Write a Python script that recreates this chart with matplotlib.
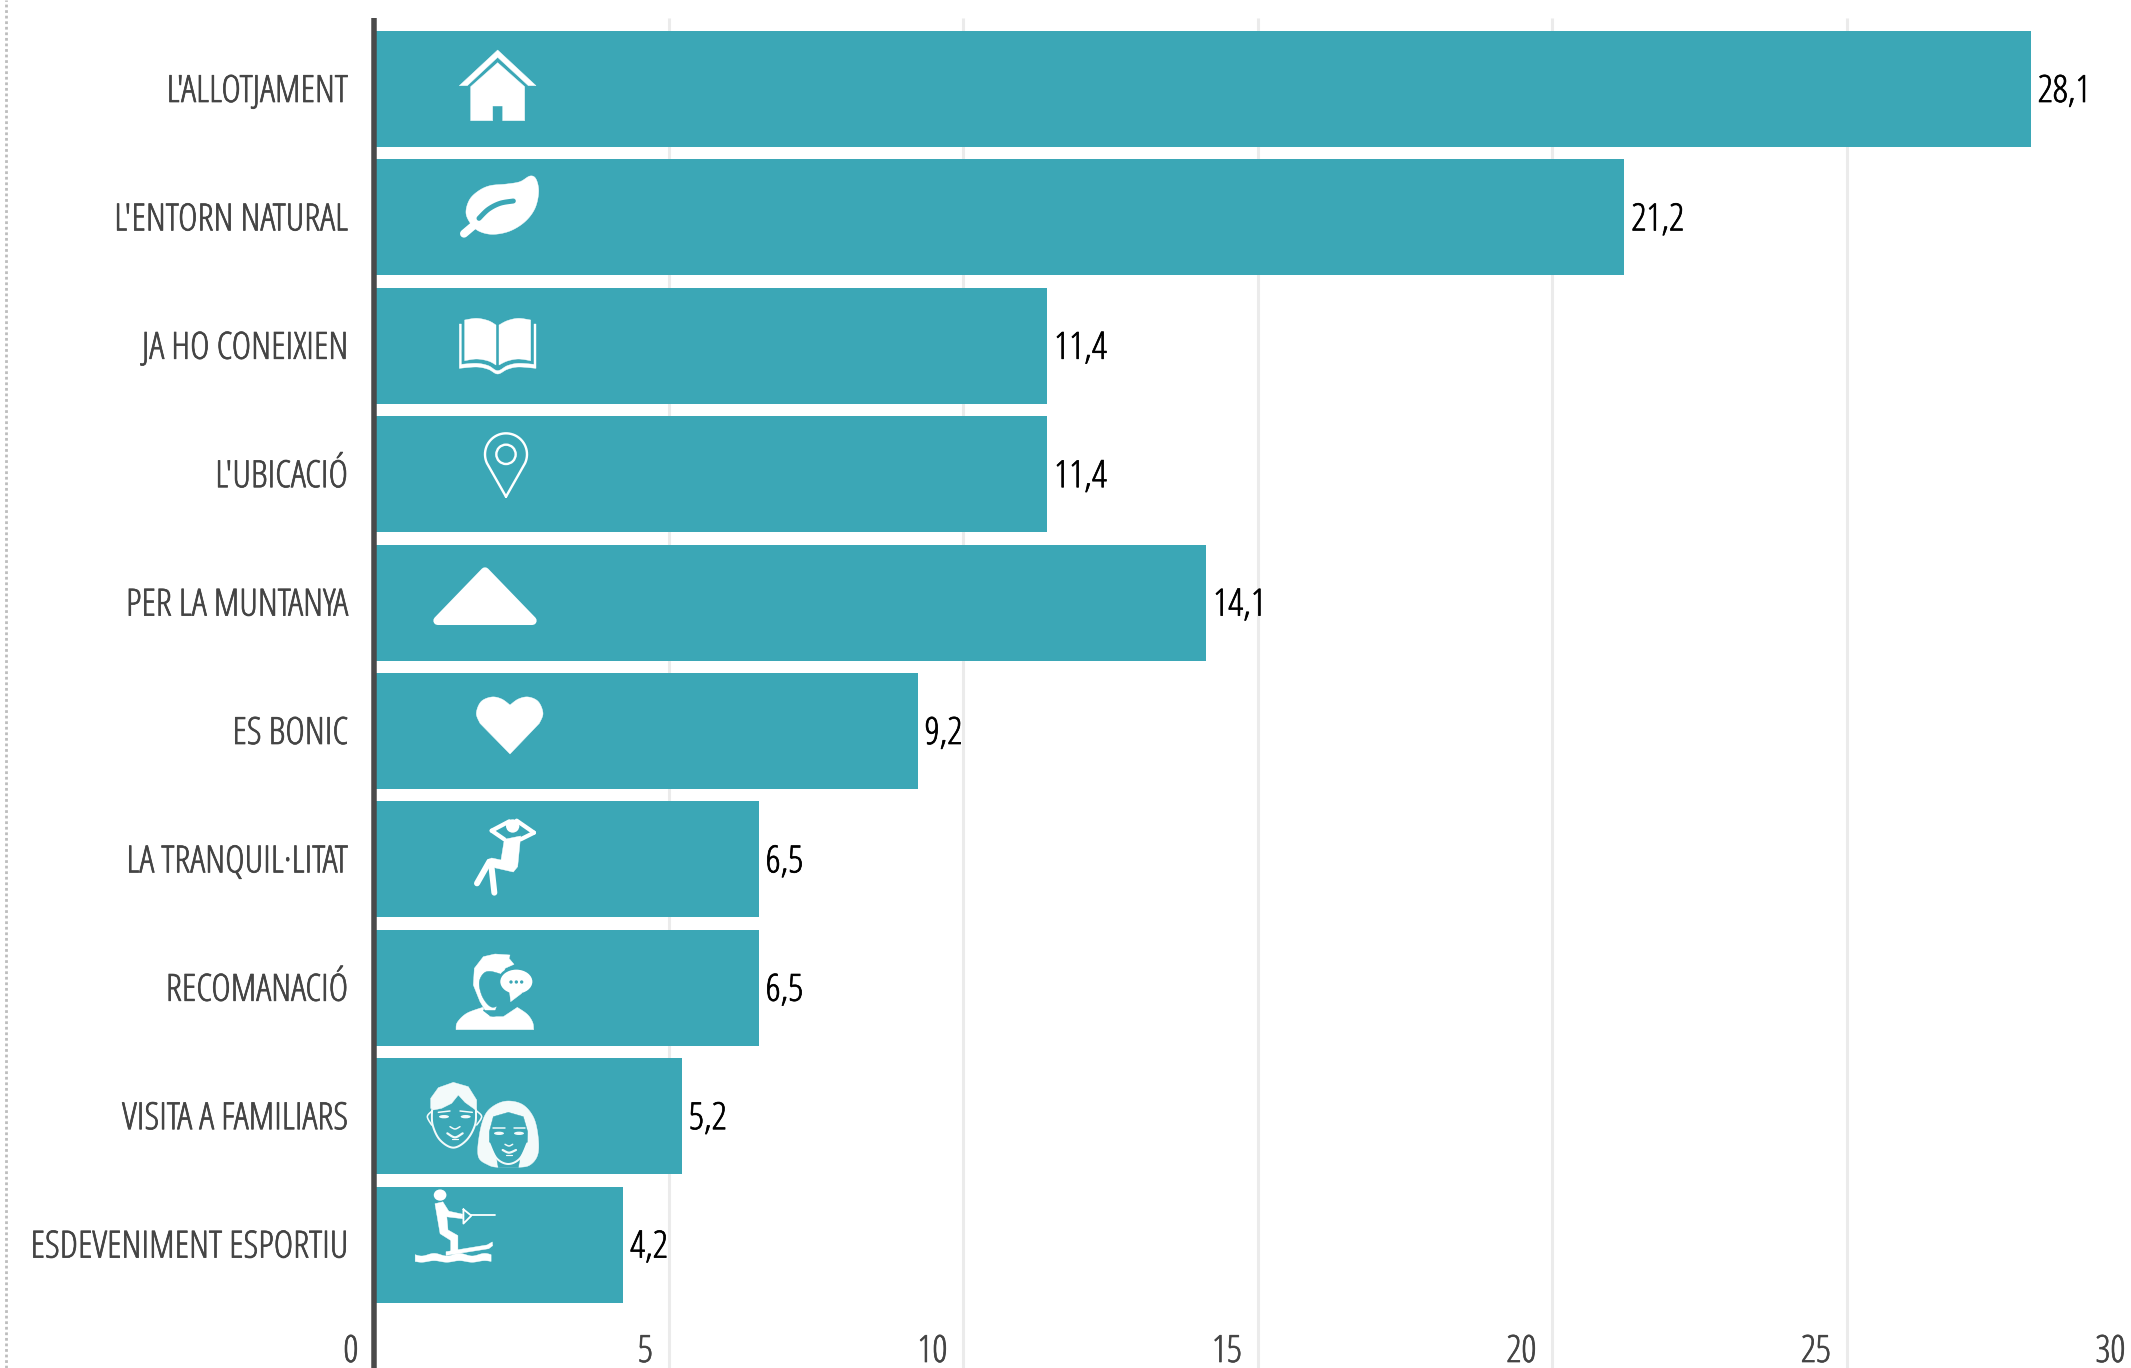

import numpy as np
import matplotlib
matplotlib.use("Agg")
import matplotlib.pyplot as plt
from matplotlib.patches import Polygon, Ellipse
import matplotlib.patheffects as pe

categories = ["L'ALLOTJAMENT","L'ENTORN NATURAL","JA HO CONEIXIEN","L'UBICACIÓ","PER LA MUNTANYA","ES BONIC","LA TRANQUIL·LITAT","RECOMANACIÓ","VISITA A FAMILIARS","ESDEVENIMENT ESPORTIU"]
values = [28.1,21.2,11.4,11.4,14.1,9.2,6.5,6.5,5.2,4.2]
value_labels = ["28,1","21,2","11,4","11,4","14,1","9,2","6,5","6,5","5,2","4,2"]
ticks = [0,5,10,15,20,25,30]

W,H = 2131,1368
TEAL = "#3ba7b6"
FS = 27
plt.rcParams['font.family'] = ['Open Sans','DejaVu Sans']
TXT = dict(fontsize=FS, stretch='condensed', va='baseline')

fig = plt.figure(figsize=(W/100,H/100),dpi=100,facecolor="white")
L = 374.4
sx = 58.9
ax = fig.add_axes([L/W,0,(W-L)/W,1])
ax.set_xlim(0,(W-L)/sx)
ax.set_ylim(H,0)
ax.axis("off")

def bold(t,col):
    t.set_path_effects([pe.withStroke(linewidth=0.5,foreground=col)])

# frame-side dotted rule
fig.add_artist(plt.Line2D([6/W,6/W],[0,1],color="#bdbdbd",lw=2.0,ls=(0,(1,1))))

for t in ticks[1:-1]:
    ax.plot([t,t],[18,H],color="#ebebeb",lw=2.2,zorder=0,solid_capstyle="butt")

y0, step, h = 31, 128.4, 116
off = 1.3/sx
for i,(c,v,l) in enumerate(zip(categories,values,value_labels)):
    yc = y0+h/2+i*step
    ax.barh(yc,v,left=off,height=h,color=TEAL,zorder=2)
    bold(ax.text(-26.5/sx,yc+13,c,ha="right",color="#444444",**TXT),"#444444")
    bold(ax.text(v+off+7/sx,yc+13,l,ha="left",color="black",**TXT),"black")
ax.plot([-0.65/sx]*2,[18,H],color="#4a4a4a",lw=5.5*0.72,zorder=3,solid_capstyle="butt",clip_on=False)
for t in ticks:
    bold(ax.text(t-16/sx,1362,str(t),ha="right",color="#444444",clip_on=False,**TXT),"#444444")

# ---- pictograms: decoration, drawn in pixel space on an overlay ----
ic = fig.add_axes([0,0,1,1],facecolor="none")
ic.set_xlim(0,W); ic.set_ylim(H,0); ic.axis("off")
PX = 0.72

def cr(pts,closed=False,n=10):
    p = np.array(pts,float)
    if closed:
        q = np.vstack([p[-1],p,p[0],p[1]])
    else:
        q = np.vstack([p[0],p,p[-1]])
    out=[]
    for i in range(1,len(q)-2):
        for t in np.linspace(0,1,n,endpoint=False):
            a,b,c,d=q[i-1],q[i],q[i+1],q[i+2]
            out.append(0.5*((2*b)+(c-a)*t+(2*a-5*b+4*c-d)*t*t+(3*b-a-3*c+d)*t**3))
    if not closed: out.append(q[-2])
    return np.array(out)

class M:
    def __init__(s,ox,oy,fx=3.0,fy=3.0,color="white"):
        s.o=np.array([ox,oy],float); s.f=np.array([fx,fy],float); s.c=color
    def t(s,p): return s.o+np.array(p,float)/s.f
    def fill(s,p,color=None,sm=False,lw=0,z=5):
        p=s.t(cr(p,True) if sm else p)
        col=color or s.c
        ic.add_patch(Polygon(p,closed=True,fc=col,ec=col,lw=lw*PX if lw else 0.3,joinstyle="round",zorder=z))
    def line(s,p,lw,color=None,sm=False,z=6):
        q=cr(p) if sm else np.array(p,float)
        q=s.t(q)
        ic.plot(q[:,0],q[:,1],color=color or s.c,lw=lw*PX,solid_capstyle="round",solid_joinstyle="round",zorder=z)
    def ell(s,c,rx,ry=None,color=None,z=6,ec=None,lw=0):
        ry=rx if ry is None else ry
        cc=s.t(c)
        ic.add_patch(Ellipse(cc,2*rx/s.f[0],2*ry/s.f[1],fc=color or s.c,ec=ec or "none",lw=lw*PX,zorder=z))

# house
m=M(430,40)
m.fill([(203,30),(318,137),(295,137),(203,52),(112,137),(88,137)])
m.fill([(203,68),(284,140),(284,242),(218,242),(218,198),(188,198),(188,242),(122,242),(122,140)])

# leaf
m=M(430,165)
m.fill([(300,33),(318,42),(326,80),(315,130),(285,170),(240,198),(190,208),(150,200),(125,180),(108,145),(118,105),(145,78),(180,62),(230,57),(270,50)],sm=True)
m.line([(135,178),(102,206)],8)
m.line([(147,160),(175,133),(210,115),(250,108)],5,color=TEAL,sm=True)

# book
m=M(430,300)
m.fill(np.vstack([cr([(104,60),(140,55),(175,62),(198,75)]),cr([(198,195),(175,183),(140,177),(104,182)])]))
m.fill(np.vstack([cr([(207,75),(232,62),(265,55),(302,60)]),cr([(302,182),(265,177),(232,183),(207,195)])]))
m.fill(np.vstack([[(88,72),(94,72),(94,193)],cr([(94,193),(140,190),(175,197),(203,212),(232,197),(265,190),(312,193)]),[(312,72),(318,72),(318,205)],cr([(318,205),(265,201),(232,208),(203,222),(175,208),(140,201),(88,205)])]))

# pin
m=M(430,425)
a=np.radians(np.linspace(-25,205,40))
arc=np.c_[228+63*np.cos(a),88-63*np.sin(a)]
m.line(np.vstack([[(228,215)],arc,[(228,215)]]),2.4)
m.ell((228,88),29,color="none",ec="white",lw=2.4)

# mountain
m=M(420,560)
m.fill([(195,35),(337,182),(53,182)],lw=8.7)

# heart
m=M(450,685)
m.fill(np.vstack([cr([(180,60),(205,42),(235,36),(265,50),(279,85),(268,115)]),[(180,207)],cr([(90,115),(79,85),(93,50),(125,36),(155,42),(180,60)])]))

# resting figure
m=M(450,810)
m.ell((188,48),20)
m.line([(125,62),(178,34)],4.2); m.line([(200,32),(252,68)],4.2)
m.line([(125,62),(163,88)],4.2); m.line([(252,68),(212,88)],4.2)
m.fill([(163,88),(212,78),(203,170),(190,186),(120,170),(112,150),(125,144),(153,150)])
m.line([(118,155),(81,220)],6)
m.line([(125,175),(133,248)],6)

# man with speech bubble
m=M(440,945)
m.fill(np.vstack([[(48,254)],cr([(48,254),(52,232),(80,205),(128,187)]),[(150,215),(190,215)],cr([(232,187),(262,208),(278,232),(281,254)])]))
m.fill([(100,120),(103,70),(130,35),(165,27),(210,30),(207,40),(222,58),(195,70),(175,170),(165,195),(135,195),(120,170)])
m.fill([(135,82),(165,82),(192,100),(192,165),(165,186),(145,180),(125,150),(118,110)],color=TEAL,sm=True)
m.line([(132,196),(160,212),(195,196)],1.8,color=TEAL,sm=True)
m.ell((229,110),52,40,ec=TEAL,lw=2.6,z=7)
m.fill([(208,135),(212,170),(245,145)],z=8)
for u in (213,229,245): m.ell((u,111),5,color=TEAL,z=9)

# couple
m=M(410,1075,color="#f3fafa")
m.fill([(62,100),(62,70),(85,38),(130,22),(175,35),(200,75),(200,108),(190,100),(165,82),(145,60),(125,85),(95,100),(70,105)])
m.line([(66,105),(68,150),(90,195),(130,218),(170,195),(195,150),(198,105)],2,sm=True)
m.line([(66,108),(52,125),(65,150)],1.6,sm=True); m.line([(200,108),(215,125),(200,150)],1.6,sm=True)
m.line([(85,112),(120,108)],1.5); m.line([(150,108),(187,112)],1.5)
m.ell((102,125),15,5); m.ell((167,125),15,5)
m.line([(120,155),(135,162),(150,155)],1.5,sm=True)
m.line([(112,175),(135,187),(158,175)],2.2,sm=True)
m.line([(125,192),(145,192)],1.2)
m.fill([(265,277),(235,270),(205,245),(208,180),(225,120),(255,90),(295,78),(340,90),(372,130),(385,190),(383,240),(360,270),(325,277)],sm=True)
m.fill([(295,112),(340,125),(353,170),(352,205),(330,250),(325,278),(265,278),(260,250),(238,205),(238,170),(250,125)],color=TEAL,z=6)
m.line([(238,205),(260,250),(295,267),(330,250),(352,205)],2,sm=True,z=7)
m.line([(250,158),(285,158)],1.5); m.line([(312,158),(345,158)],1.5)
m.ell((267,175),15,5); m.ell((327,175),15,5)
m.line([(285,208),(297,213),(308,208)],1.5,sm=True)
m.line([(278,225),(297,233),(318,225)],2.2,sm=True)
m.line([(288,240),(305,240)],1.2)

# water-skier
m=M(0,780,2.529,2.667)
m.ell((1113,1107),16,15)
m.fill([(1100,1130),(1120,1125),(1135,1150),(1170,1158),(1170,1170),(1130,1165),(1133,1200),(1158,1215),(1158,1260),(1140,1260),(1140,1228),(1113,1210)])
m.line([(1172,1145),(1192,1162),(1172,1183),(1172,1145)],1.8)
m.line([(1192,1161),(1252,1161)],1.8)
m.fill([(1128,1258),(1232,1240),(1245,1232),(1246,1242),(1236,1250),(1128,1268)])
xs=np.arange(1050,1243,1.0)
wave=3.5*np.sin((xs-1050)/192*2*np.pi*3)
m.fill(np.vstack([np.c_[xs,1266+wave],np.c_[xs[::-1],1284+wave[::-1]*0.6]]))

fig.savefig("out.png",dpi=100)
